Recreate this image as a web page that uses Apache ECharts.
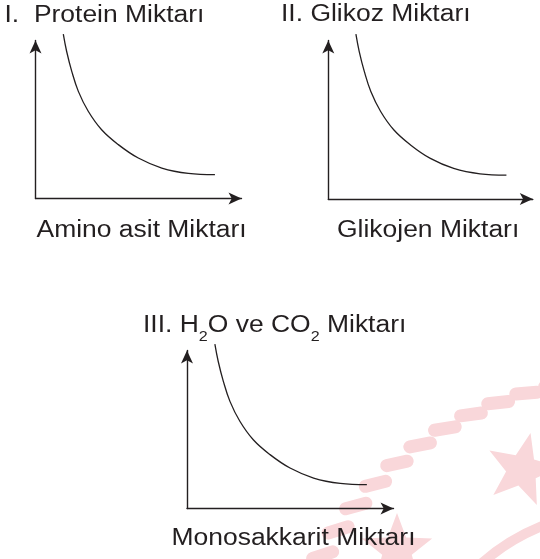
<!DOCTYPE html>
<html>
<head>
<meta charset="utf-8">
<script src="https://cdn.jsdelivr.net/npm/echarts@6/dist/echarts.min.js"></script>
<style>
  html, body { margin: 0; padding: 0; background: #fff; }
  #chart { width: 540px; height: 559px; }
</style>
</head>
<body>
<div id="chart"></div>
<script>
// the three panels show the same falling curve (arbitrary units, axes 0..10)
const curveX = [1.35, 1.51, 1.76, 2.08, 2.56, 3.21, 4.02, 4.99, 6.13, 7.42, 8.71];
const curveY = [10.4, 9.32, 8.05, 6.78, 5.52, 4.35, 3.41, 2.56, 1.93, 1.59, 1.51];

const panelTitles = ['I.  Protein Miktarı', 'II. Glikoz Miktarı', '{m|III. H}{s|2}{m|O ve CO}{s|2}{m| Miktarı}'];
const axisNames = ['Amino asit Miktarı', 'Glikojen Miktarı', 'Monosakkarit Miktarı'];

const INK = '#231f20';
const PINK = '#f9d7da';

// panel boxes: left, top, width, height
const boxes = [
  [35.5, 40.5, 206, 158],
  [328.3, 40.5, 204.5, 158.5],
  [187, 350.5, 206.5, 158]
];
// text anchors (left x, middle y)
const titlePos = [[4.5, 15.5], [281, 14.5], [143, 326]];
const namePos = [[36.5, 231], [337, 231], [171.5, 538.5]];

const chart = echarts.init(document.getElementById('chart'));

const axisBase = {
  type: 'value', min: 0, max: 10,
  axisLine: { show: true, symbol: ['none', 'arrow'], symbolSize: [9, 13],
    lineStyle: { color: INK, width: 1.4 } },
  axisTick: { show: false }, axisLabel: { show: false }, splitLine: { show: false }
};

const grids = boxes.map(b => ({ left: b[0], top: b[1], width: b[2], height: b[3] }));
const xAxes = boxes.map((b, i) => Object.assign({ gridIndex: i }, axisBase));
const yAxes = boxes.map((b, i) => Object.assign({ gridIndex: i }, axisBase));

const curve = curveX.map((x, i) => [x, curveY[i]]);
const series = boxes.map((b, i) => ({
  type: 'line', xAxisIndex: i, yAxisIndex: i, data: curve,
  smooth: 0.4, showSymbol: false, clip: false, silent: true,
  lineStyle: { color: INK, width: 1.3 }, z: 5
}));

function textEl(str, pos) {
  return {
    type: 'text', x: pos[0], y: pos[1], scaleX: 1.15, z: 10,
    style: {
      text: str, fill: INK, fontSize: 23, fontFamily: 'Liberation Sans, Arial, sans-serif',
      align: 'left', verticalAlign: 'middle',
      rich: {
        m: { fontSize: 23, fontFamily: 'Liberation Sans, Arial, sans-serif', fill: INK },
        s: { fontSize: 14, fontFamily: 'Liberation Sans, Arial, sans-serif', fill: INK, padding: [22, 0, 0, 0] }
      }
    }
  };
}

// faint watermark (seal ring of dashes, stars, inner arc)
const wm = [];
const cx = 620, cy = 720, ringR = 340;
for (let a = -101; a >= -156; a -= 5) {
  const rad = a * Math.PI / 180;
  wm.push({
    type: 'rect', x: cx + ringR * Math.cos(rad), y: cy + ringR * Math.sin(rad),
    rotation: -0.3 * (a + 90) * Math.PI / 180, z: 0, silent: true,
    shape: { x: -17, y: -6.5, width: 34, height: 13, r: 6.5 },
    style: { fill: PINK }
  });
}
function star(x, y, R, rotDeg) {
  const pts = [];
  for (let k = 0; k < 10; k++) {
    const r = k % 2 ? R * 0.42 : R;
    const ang = (-90 + rotDeg + k * 36) * Math.PI / 180;
    pts.push([x + r * Math.cos(ang), y + r * Math.sin(ang)]);
  }
  return { type: 'polygon', z: 0, silent: true, shape: { points: pts }, style: { fill: PINK } };
}
wm.push(star(522, 470, 38, 13));
wm.push(star(397, 550, 37, 0));
wm.push({
  type: 'arc', z: 0, silent: true,
  shape: { cx: cx, cy: cy, r: 209, startAngle: -135 * Math.PI / 180, endAngle: -88 * Math.PI / 180 },
  style: { stroke: PINK, lineWidth: 10, fill: null }
});

const texts = [];
panelTitles.forEach((t, i) => texts.push(textEl(t, titlePos[i])));
axisNames.forEach((t, i) => texts.push(textEl(t, namePos[i])));

chart.setOption({
  animation: false,
  grid: grids,
  xAxis: xAxes,
  yAxis: yAxes,
  series: series,
  graphic: wm.concat(texts)
});
</script>
</body>
</html>
